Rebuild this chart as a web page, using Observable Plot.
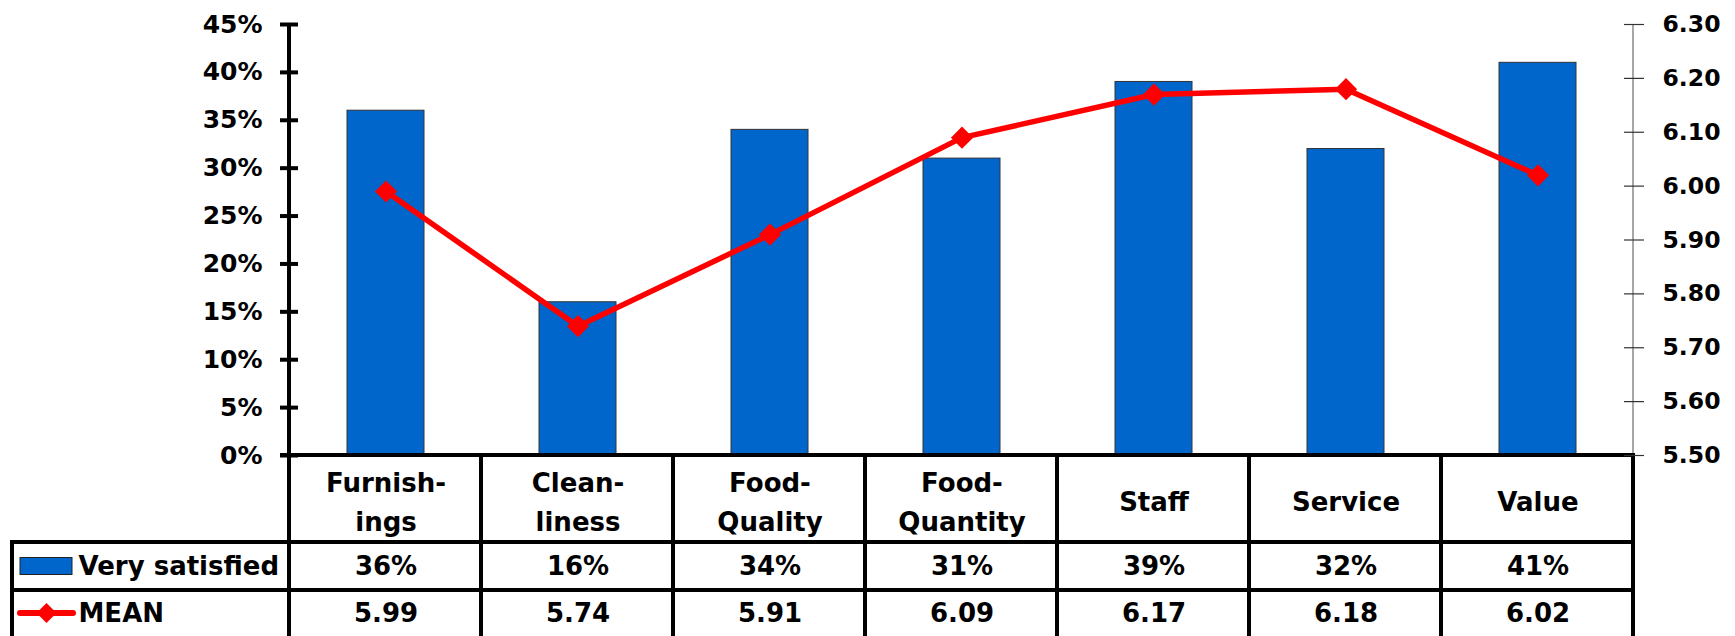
<!DOCTYPE html>
<html>
<head>
<meta charset="utf-8">
<script src="https://cdn.jsdelivr.net/npm/d3@7"></script>
<script src="https://cdn.jsdelivr.net/npm/@observablehq/plot@0.6"></script>
<style>
  html, body { margin: 0; padding: 0; background: #ffffff; }
  #chart { width: 1735px; height: 636px; overflow: hidden; }
</style>
</head>
<body>
<div id="chart"></div>
<script>
// ---------- data ----------
const categories = ["Furnishings", "Cleanliness", "Food-Quality", "Food-Quantity", "Staff", "Service", "Value"];
const headerLabels = ["Furnish-\nings", "Clean-\nliness", "Food-\nQuality", "Food-\nQuantity", "Staff", "Service", "Value"];
const verySatisfied = [0.36, 0.16, 0.34, 0.31, 0.39, 0.32, 0.41];
const meanScores = [5.99, 5.74, 5.91, 6.09, 6.17, 6.18, 6.02];
const pctTicks = [0, 0.05, 0.10, 0.15, 0.20, 0.25, 0.30, 0.35, 0.40, 0.45];
const meanTicks = [5.5, 5.6, 5.7, 5.8, 5.9, 6.0, 6.1, 6.2, 6.3];
const seriesNames = ["Very satisfied", "MEAN"];

// ---------- styling ----------
const BAR = "#0066CC";
const LINE = "#FF0000";
const FONT = "'DejaVu Sans', Verdana, sans-serif";

// secondary axis mapping (mean score -> primary y domain)
const meanToY = d3.scaleLinear().domain([meanTicks[0], meanTicks[meanTicks.length - 1]]).range([pctTicks[0], pctTicks[pctTicks.length - 1]]);

const rows = categories.map((c, i) => ({
  category: c,
  header: headerLabels[i],
  very: verySatisfied[i],
  mean: meanScores[i],
  meanY: meanToY(meanScores[i])
}));

const W = 1735, H = 636;
const mL = 289, mR = 102, mT = 24, mB = 181;
const headerH = 87, row1H = 48;   // table rows under the frame
const legendLeft = 12;

// table grid + legend swatches, drawn with the plot's own x scale
function tableGrid(index, scales, values, dims) {
  const g = d3.create("svg:g");
  const x = scales.x;
  const left = dims.marginLeft, right = dims.width - dims.marginRight;
  const top = dims.marginTop, bottom = dims.height - dims.marginBottom;
  const step = x(categories[1]) - x(categories[0]);
  const shift = (left + step / 2) - x(categories[0]);
  const centers = categories.map(c => x(c) + shift);
  const bounds = [left, ...centers.slice(1).map((c, i) => (c + centers[i]) / 2), right];
  const yRow1 = bottom + headerH, yRow2 = yRow1 + row1H, yEnd = dims.height + 5;

  const line = (x1, y1, x2, y2, stroke = "#000", sw = 4) =>
    g.append("line").attr("x1", x1).attr("y1", y1).attr("x2", x2).attr("y2", y2)
      .attr("stroke", stroke).attr("stroke-width", sw);

  // right (secondary) axis line, thin grey
  line(right, top, right, bottom, "#888", 1.5);
  // column separators in the table
  bounds.slice(1).forEach(b => line(b, bottom, b, yEnd));
  // left axis line running through table
  line(left, top, left, yEnd);
  // legend column border
  line(legendLeft, yRow1, legendLeft, yEnd);
  // horizontal table lines
  line(left - 9, bottom, right + 2, bottom);
  line(legendLeft - 2, yRow1, right + 2, yRow1);
  line(legendLeft - 2, yRow2, right + 2, yRow2);

  // legend swatches
  const cy1 = (yRow1 + yRow2) / 2, cy2 = (yRow2 + dims.height) / 2;
  g.append("rect").attr("x", legendLeft + 8).attr("y", cy1 - 8.5).attr("width", 52).attr("height", 17)
    .attr("fill", BAR).attr("stroke", "#222").attr("stroke-width", 1);
  g.append("line").attr("x1", legendLeft + 8).attr("x2", legendLeft + 61).attr("y1", cy2).attr("y2", cy2)
    .attr("stroke", LINE).attr("stroke-width", 6).attr("stroke-linecap", "round");
  const dx = legendLeft + 34.5;
  g.append("path").attr("d", `M${dx},${cy2 - 10}L${dx + 10},${cy2}L${dx},${cy2 + 10}L${dx - 10},${cy2}Z`).attr("fill", LINE);
  return g.node();
}

const plot = Plot.plot({
  width: W,
  height: H,
  marginLeft: mL,
  marginRight: mR,
  marginTop: mT,
  marginBottom: mB,
  style: { fontFamily: FONT, fontWeight: "bold", fontSize: "26px", color: "#000", background: "#fff", overflow: "visible" },
  x: { type: "band", domain: categories, paddingInner: 0.6, paddingOuter: 0.3, axis: null },
  y: { domain: [pctTicks[0], pctTicks[pctTicks.length - 1]] },
  marks: [
    Plot.barY(rows, { x: "category", y: "very", fill: BAR, stroke: "#333", strokeWidth: 1 }),
    tableGrid,
    Plot.line(rows, { x: "category", y: "meanY", stroke: LINE, strokeWidth: 5.5 }),
    Plot.dot(rows, { x: "category", y: "meanY", symbol: "diamond2", r: 10, fill: LINE, stroke: "none" }),

    // left axis: crossing ticks + labels
    Plot.axisY(pctTicks, { anchor: "left", tickSize: 18, dx: 9, strokeWidth: 4, stroke: "#000", fill: "none", label: null }),
    Plot.axisY(pctTicks, { anchor: "left", tickSize: 0, tickPadding: 27, tickFormat: d => Math.round(d * 100) + "%", fontSize: 25, label: null }),
    // right axis: crossing ticks + labels
    Plot.axisY(meanTicks.map(meanToY), { anchor: "right", tickSize: 20, dx: -10, strokeWidth: 1.2, stroke: "#333", fill: "none", label: null }),
    Plot.axisY(meanTicks.map(meanToY), { anchor: "right", tickSize: 0, tickPadding: 29, tickFormat: d => meanToY.invert(d).toFixed(2), fontSize: 23.5, label: null }),

    // data table
    Plot.text(rows, { x: "category", text: "header", frameAnchor: "bottom", dy: headerH / 2, lineAnchor: "middle", lineHeight: 1.5, fontSize: 26, fill: "#000" }),
    Plot.text(rows, { x: "category", text: d => Math.round(d.very * 100) + "%", frameAnchor: "bottom", dy: headerH + row1H / 2, lineAnchor: "middle", fontSize: 26, fill: "#000" }),
    Plot.text(rows, { x: "category", text: d => d.mean.toFixed(2), frameAnchor: "bottom", dy: headerH + row1H + 23, lineAnchor: "middle", fontSize: 26, fill: "#000" }),
    Plot.text([seriesNames[0]], { text: d => d, frameAnchor: "bottom-left", dx: legendLeft + 66 - mL, dy: headerH + row1H / 2, textAnchor: "start", lineAnchor: "middle", fontSize: 26, fill: "#000" }),
    Plot.text([seriesNames[1]], { text: d => d, frameAnchor: "bottom-left", dx: legendLeft + 66 - mL, dy: headerH + row1H + 23, textAnchor: "start", lineAnchor: "middle", fontSize: 26, fill: "#000" })
  ]
});

document.getElementById("chart").appendChild(plot);
</script>
</body>
</html>
